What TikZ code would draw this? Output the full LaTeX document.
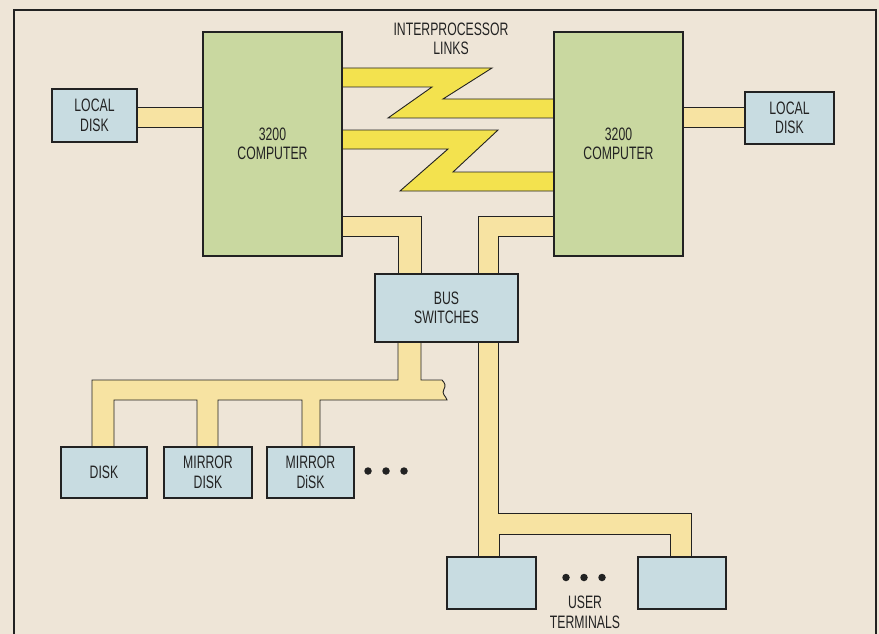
\documentclass[tikz,border=0pt]{standalone}
\usepackage{fontspec}
\setmainfont{Liberation Sans}[FakeStretch=0.68]
\definecolor{paper}{HTML}{EEE5D7}
\definecolor{compgreen}{HTML}{C9D8A0}
\definecolor{diskblue}{HTML}{C8DCE1}
\definecolor{busyellow}{HTML}{F7E3A2}
\definecolor{linkyellow}{HTML}{F3E24E}
\definecolor{ink}{HTML}{222222}
\tikzset{
  box/.style={draw=ink, line width=2.8pt, inner sep=0pt, align=center,
    font=\fontsize{18}{19.5}\selectfont, text=ink},
  comp/.style={box, fill=compgreen},
  disk/.style={box, fill=diskblue},
  bus/.style={fill=busyellow, draw=ink, line width=0.9pt, line join=miter},
  link/.style={fill=linkyellow, draw=ink, line width=0.9pt, line join=miter},
  lbl/.style={inner sep=0pt, align=center, font=\fontsize{18}{19.5}\selectfont, text=ink},
  dot/.style={circle, fill=ink, inner sep=0pt, minimum size=7.5pt}
}
\begin{document}
\begin{tikzpicture}[x=1pt,y=-1pt]
\useasboundingbox (0,0) rectangle (879,634);
\fill[paper] (0,0) rectangle (879,634);
\clip (0,0) rectangle (879,634);
% frame
\draw[ink, line width=2pt] (14,660) -- (14,10) -- (876,10) -- (876,660);

% buses (drawn first, boxes cover their ends)
\draw[bus] (137,107) rectangle (204,127);
\draw[bus] (682,107) rectangle (746,127);
\draw[bus] (342,216) -- (421,216) -- (421,275) -- (398,275) -- (398,236) -- (342,236) -- cycle;
\draw[bus] (555,216) -- (478,216) -- (478,275) -- (498,275) -- (498,236) -- (555,236) -- cycle;
\draw[bus] (398,341) -- (398,380) -- (92,380) -- (92,448) -- (114,448) -- (114,400)
  -- (197,400) -- (197,448) -- (218,448) -- (218,400) -- (302,400) -- (302,448)
  -- (320,448) -- (320,400) -- (447,400)
  .. controls (446,396) and (441,394) .. (444,389)
  .. controls (446,386) and (445,383) .. (442,380)
  -- (421,380) -- (421,341) -- cycle;
\draw[bus] (478,341) -- (478,558) -- (499,558) -- (499,534) -- (670,534) -- (670,558)
  -- (691,558) -- (691,513) -- (498,513) -- (498,341) -- cycle;

% interprocessor links
\draw[link] (342,68) -- (492,68) -- (443,99) -- (555,99) -- (555,118) -- (388,118)
  -- (432,87) -- (342,87) -- cycle;
\draw[link] (342,130) -- (498,130) -- (453,172) -- (555,172) -- (555,191) -- (400,191)
  -- (448,149) -- (342,149) -- cycle;

% computers
\node[comp, minimum width=139pt, minimum height=224pt] (lc) at (272.5,144) {3200\\COMPUTER};
\node[comp, minimum width=129pt, minimum height=224pt] (rc) at (618.5,144) {3200\\COMPUTER};

% local disks
\node[disk, minimum width=85pt, minimum height=53pt] (ld) at (94.5,115.5) {LOCAL\\DISK};
\node[disk, minimum width=89pt, minimum height=52pt] (rd) at (789.5,118) {LOCAL\\DISK};

% bus switches
\node[disk, minimum width=143pt, minimum height=68pt] (bs) at (446.5,308) {BUS\\SWITCHES};

% disks
\node[disk, minimum width=86pt, minimum height=51pt] (d1) at (104,472.5) {DISK};
\node[disk, minimum width=88pt, minimum height=51pt] (d2) at (208,472.5) {MIRROR\\DISK};
\node[disk, minimum width=87pt, minimum height=51pt] (d3) at (310.5,472.5) {MIRROR\\DiSK};
\node[dot] (da) at (368,471) {};
\node[dot] (db) at (386,471) {};
\node[dot] (dc) at (404,471) {};

% terminals
\node[disk, minimum width=89pt, minimum height=52pt] (t1) at (491.5,583) {};
\node[disk, minimum width=88pt, minimum height=52pt] (t2) at (682,583) {};
\node[dot] (ta) at (566,577.5) {};
\node[dot] (tb) at (584,577.5) {};
\node[dot] (tc) at (602,577.5) {};

% labels
\node[lbl] (ipl) at (451,39) {INTERPROCESSOR\\LINKS};
\node[lbl] (ut) at (585,612.5) {USER\\TERMINALS};
\end{tikzpicture}
\end{document}
